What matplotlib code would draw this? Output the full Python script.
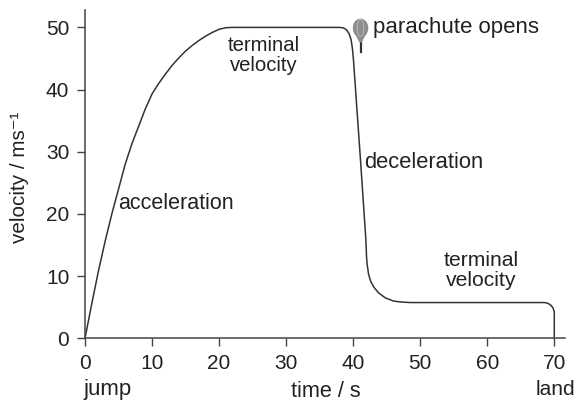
import matplotlib
matplotlib.use("Agg")
import matplotlib.pyplot as plt
from matplotlib.patches import Ellipse, Polygon

plt.rcParams['font.family'] = ['Liberation Sans', 'DejaVu Sans']

time = [0, 1, 2, 3, 4, 5, 6, 7, 8, 9, 10, 11, 12, 13, 14, 15, 16, 17, 18, 19, 20, 21, 22, 30, 37,
        38, 38.6, 39, 39.4, 39.7, 39.9, 40.05, 41.1, 41.9, 42, 42.1, 42.3, 42.6, 43.1, 43.8, 44.8, 46, 47, 48.5,
        60, 68.6, 69.1, 69.5, 69.8, 70, 70]
velocity = [0, 5.5, 10.8, 15.6, 20, 24, 28, 31.3, 34.1, 36.9, 39.3, 41, 42.5, 43.9, 45.1, 46.2, 47.1, 47.9, 48.6, 49.2, 49.7, 49.95, 50, 50, 50,
            50, 49.9, 49.6, 49, 48, 46.5, 44.7, 28.6, 15.8, 13, 11.8, 10.3, 9.2, 8.2, 7.3, 6.5, 6, 5.85, 5.75,
            5.75, 5.75, 5.6, 5.3, 4.9, 4.3, 0]
xticks = [0, 10, 20, 30, 40, 50, 60, 70]
yticks = [0, 10, 20, 30, 40, 50]

fig = plt.figure(figsize=(5.78, 4.01), dpi=100)
ax = fig.add_axes([85 / 578, 1 - 338.3 / 401, 480 / 578, 328.3 / 401])
ax.plot(time, velocity, color='#333333', lw=1.1, clip_on=False, solid_joinstyle='round')

ax.set_xlim(0, 71.6)
ax.set_ylim(0, 52.8)
ax.set_xticks(xticks)
ax.set_yticks(yticks)
ax.spines['top'].set_visible(False)
ax.spines['right'].set_visible(False)
for s in ['left', 'bottom']:
    ax.spines[s].set_color('#444444')
    ax.spines[s].set_linewidth(1.1)
ax.tick_params(length=5.8, width=1, color='#444444', labelsize=15, labelcolor='#222222')
ax.tick_params(axis='x', pad=5.5)
ax.tick_params(axis='y', pad=5.5)

tc = '#222222'
ax.set_ylabel('velocity / ms⁻¹', fontsize=14.9, color=tc, labelpad=12, y=0.49)
ax.text(26.7, 45.5, 'terminal\nvelocity', fontsize=14.6, color=tc, ha='center', va='center', linespacing=1.1)
ax.text(59.1, 10.9, 'terminal\nvelocity', fontsize=15.2, color=tc, ha='center', va='center', linespacing=1.1)
ax.text(4.9, 21.6, 'acceleration', fontsize=15.5, color=tc, va='center')
ax.text(41.6, 28.2, 'deceleration', fontsize=15.8, color=tc, va='center')
ax.text(43, 50.0, 'parachute opens', fontsize=16, color=tc, va='center')
ax.text(-0.2, -8.3, 'jump', fontsize=16, color=tc, va='center', clip_on=False)
ax.text(70.2, -8.3, 'land', fontsize=15, color=tc, ha='center', va='center', clip_on=False)
ax.text(35.9, -8.5, 'time / s', fontsize=15.6, color=tc, ha='center', va='center', clip_on=False)

# parachute
ax.plot([41.1, 41.1], [46, 48.3], color='#333333', lw=1.6)
ax.add_patch(Polygon([[40.2, 49.2], [42.0, 49.2], [41.3, 47.6], [40.9, 47.6]], facecolor='#8f8f8f', edgecolor='none', zorder=3))
ax.add_patch(Ellipse((41.1, 49.9), 2.2, 2.9, facecolor='#8f8f8f', edgecolor='#808080', lw=0.5, zorder=3))
ax.add_patch(Ellipse((41.1, 49.9), 1.0, 2.8, facecolor='none', edgecolor='#c4c4c4', lw=0.5, zorder=4))

fig.savefig('out.png', dpi=100)
